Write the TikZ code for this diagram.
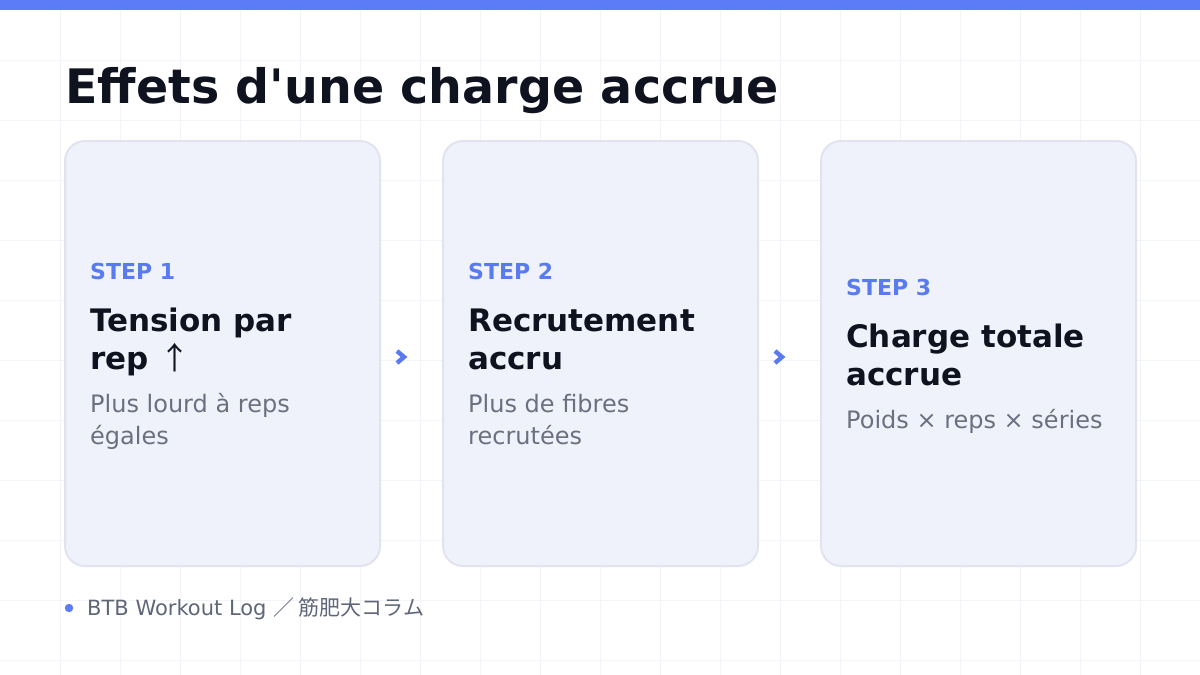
\documentclass[tikz,border=0pt]{standalone}
\usepackage{fontspec}
\setmainfont{DejaVu Sans}[Ligatures=TeXOff]
\newfontfamily\cjkfont{Noto Sans CJK JP}
\definecolor{barblue}{HTML}{5B7CF6}
\definecolor{stepblue}{HTML}{5A7BEF}
\definecolor{titleink}{HTML}{0F1320}
\definecolor{subgray}{HTML}{6B7080}
\definecolor{footgray}{HTML}{5F6677}
\definecolor{cardfill}{HTML}{F0F2FB}
\definecolor{cardline}{HTML}{E1E4F0}
\definecolor{gridline}{HTML}{F3F4F7}
\tikzset{
  card/.style={draw=cardline, line width=2pt, fill=cardfill, rounded corners=20pt, minimum width=315pt, minimum height=425pt, anchor=north west, inner sep=0pt},
  steplbl/.style={anchor=base west, inner sep=0pt, text=stepblue, font=\fontsize{22}{26}\selectfont\bfseries},
  headlbl/.style={anchor=base west, inner sep=0pt, text=titleink, font=\fontsize{31}{38}\selectfont\bfseries},
  sublbl/.style={anchor=base west, inner sep=0pt, text=subgray, font=\fontsize{24}{32}\selectfont},
  chev/.style={draw=stepblue, line width=4.4pt, line cap=butt, line join=miter},
}
\begin{document}
\begin{tikzpicture}[x=1pt,y=-1pt]
\useasboundingbox (0,0) rectangle (1200,675);
\fill[white] (0,0) rectangle (1200,675);
% grid
\foreach \gx in {60,120,...,1140} \draw[gridline, line width=1pt] (\gx,0) -- (\gx,675);
\foreach \gy in {60,120,...,660} \draw[gridline, line width=1pt] (0,\gy) -- (1200,\gy);
% top bar
\fill[barblue] (0,0) rectangle (1200,10);
% title
\node[anchor=base west, inner sep=0pt, text=titleink, font=\fontsize{47.5}{60}\selectfont\bfseries] (title) at (65,103) {Effets d'une charge accrue};
% cards
\node[card] (c1) at (64,140) {};
\node[card] (c2) at (442,140) {};
\node[card] (c3) at (820,140) {};
% card 1
\node[steplbl] (s1) at (90,279) {STEP 1};
\node[headlbl] (h1a) at (90,331) {Tension par};
\node[headlbl] (h1b) at (90,369) {rep {\cjkfont\mdseries ↑}};
\node[sublbl] (d1a) at (90,412) {Plus lourd à reps};
\node[sublbl] (d1b) at (90,444) {égales};
% card 2
\node[steplbl] (s2) at (468,279) {STEP 2};
\node[headlbl] (h2a) at (468,331) {Recrutement};
\node[headlbl] (h2b) at (468,369) {accru};
\node[sublbl] (d2a) at (468,412) {Plus de fibres};
\node[sublbl] (d2b) at (468,444) {recrutées};
% card 3
\node[steplbl] (s3) at (846,295) {STEP 3};
\node[headlbl] (h3a) at (846,347) {Charge totale};
\node[headlbl] (h3b) at (846,385) {accrue};
\node[sublbl] (d3a) at (846,428) {Poids × reps × séries};
% chevrons
\coordinate (k1) at (401,357);
\coordinate (k2) at (779,357);
\draw[chev] ([shift={(-4,-6)}]k1) -- ([shift={(3,0)}]k1) -- ([shift={(-4,6)}]k1);
\draw[chev] ([shift={(-4,-6)}]k2) -- ([shift={(3,0)}]k2) -- ([shift={(-4,6)}]k2);
% footer
\fill[barblue] (69,608) circle (4.2);
\node[anchor=base west, inner sep=0pt, text=footgray, font=\fontsize{21}{24}\selectfont] (foot) at (87,615) {BTB Workout Log {\cjkfont ／ 筋肥大コラム}};
\end{tikzpicture}
\end{document}
